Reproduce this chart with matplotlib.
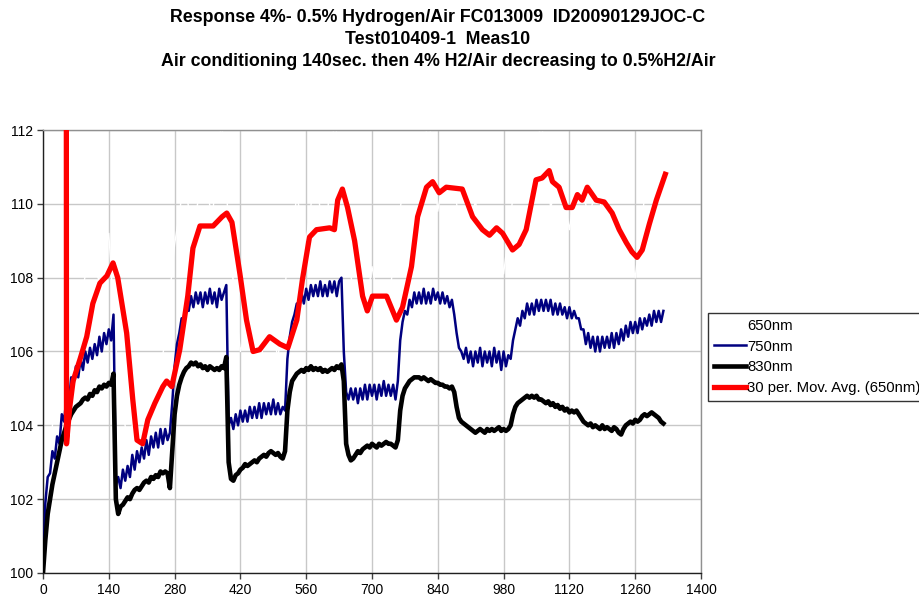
import matplotlib
matplotlib.use("Agg")
import matplotlib.pyplot as plt
from matplotlib.lines import Line2D

plt.rcParams['font.family'] = ['Liberation Sans', 'DejaVu Sans']

title_lines = [
    "Response 4%- 0.5% Hydrogen/Air FC013009  ID20090129JOC-C",
    "Test010409-1  Meas10",
    "Air conditioning 140sec. then 4% H2/Air decreasing to 0.5%H2/Air",
]
series_names = ["650nm", "750nm", "830nm", "30 per. Mov. Avg. (650nm)"]

t_fine = list(range(0, 1325, 5))

nm750 = [100.0, 101.9, 102.6, 102.7, 103.3, 103.1, 103.7, 103.5, 104.3, 104.1,
         104.8, 104.6, 105.3, 105.1, 105.6, 105.3, 105.8, 105.5, 106.0, 105.7,
         106.1, 105.8, 106.2, 105.9, 106.4, 106.0, 106.5, 106.2, 106.6, 106.3,
         107.0, 102.4, 102.6, 102.3, 102.8, 102.5, 102.9, 102.6, 103.2, 102.8,
         103.3, 103.0, 103.4, 103.1, 103.6, 103.2, 103.7, 103.4, 103.8, 103.4,
         103.9, 103.5, 103.9, 103.6, 103.8, 104.6, 105.6, 106.2, 106.5, 106.9,
         106.8, 107.3, 107.1, 107.5, 107.2, 107.6, 107.3, 107.6, 107.2, 107.6,
         107.3, 107.7, 107.3, 107.6, 107.2, 107.7, 107.4, 107.6, 107.8, 104.0,
         104.2, 103.9, 104.3, 104.0, 104.4, 104.1, 104.4, 104.1, 104.5, 104.2,
         104.5, 104.2, 104.6, 104.2, 104.6, 104.3, 104.6, 104.3, 104.7, 104.3,
         104.6, 104.3, 104.5, 104.4, 105.8, 106.4, 106.8, 107.0, 107.3, 107.2,
         107.6, 107.3, 107.7, 107.4, 107.8, 107.5, 107.8, 107.5, 107.9, 107.5,
         107.8, 107.5, 107.9, 107.6, 107.9, 107.5, 107.9, 108.0, 106.0, 104.9,
         104.7, 105.0, 104.7, 105.0, 104.6, 105.0, 104.7, 105.1, 104.7, 105.1,
         104.8, 105.1, 104.7, 105.1, 104.8, 105.2, 104.8, 105.1, 104.8, 105.1,
         104.7, 105.2, 106.3, 106.8, 107.1, 107.0, 107.4, 107.2, 107.6, 107.3,
         107.6, 107.3, 107.7, 107.3, 107.6, 107.3, 107.7, 107.4, 107.6, 107.3,
         107.6, 107.3, 107.5, 107.2, 107.4, 107.0, 106.5, 106.1, 106.0, 105.8,
         106.1, 105.7, 106.0, 105.6, 106.0, 105.7, 106.1, 105.6, 106.0, 105.7,
         106.0, 105.6, 106.1, 105.7, 106.0, 105.5, 106.0, 105.6, 105.9, 105.8,
         106.3, 106.6, 106.9, 106.7, 107.1, 106.9, 107.3, 107.0, 107.3, 107.0,
         107.4, 107.1, 107.4, 107.1, 107.4, 107.1, 107.4, 107.0, 107.3, 107.0,
         107.3, 107.0, 107.2, 106.9, 107.2, 106.9, 107.1, 106.9, 106.9, 106.6,
         106.6, 106.2, 106.5, 106.1, 106.4, 106.0, 106.4, 106.0, 106.4, 106.1,
         106.4, 106.1, 106.5, 106.1, 106.5, 106.2, 106.6, 106.3, 106.7, 106.4,
         106.8, 106.5, 106.8, 106.5, 106.9, 106.6, 106.9, 106.7, 107.0, 106.7,
         107.1, 106.8, 107.1, 106.8, 107.1]

nm830 = [100.0, 100.9, 101.6, 102.0, 102.4, 102.7, 103.0, 103.3, 103.6, 103.8,
         104.0, 104.15, 104.3, 104.4, 104.5, 104.55, 104.6, 104.7, 104.75, 104.7,
         104.85, 104.8, 104.95, 104.9, 105.05, 105.0, 105.1, 105.05, 105.15, 105.1,
         105.4, 102.0, 101.6, 101.8, 101.85, 101.95, 102.05, 102.0, 102.15, 102.25,
         102.3, 102.25, 102.35, 102.45, 102.5, 102.45, 102.6, 102.55, 102.65, 102.6,
         102.75, 102.7, 102.75, 102.7, 102.3, 103.3, 104.3, 104.8, 105.1, 105.3,
         105.45, 105.55, 105.6, 105.7, 105.65, 105.7, 105.6, 105.65, 105.55, 105.6,
         105.5, 105.6, 105.55, 105.5, 105.55, 105.5, 105.6, 105.55, 105.85, 103.0,
         102.55, 102.5, 102.65, 102.7, 102.8, 102.85, 102.95, 102.9, 102.95, 103.0,
         103.05, 103.0, 103.1, 103.15, 103.2, 103.15, 103.25, 103.3, 103.25, 103.2,
         103.25, 103.15, 103.1, 103.3, 104.4, 104.9, 105.2, 105.3, 105.4, 105.45,
         105.5, 105.45, 105.55, 105.5, 105.6, 105.5, 105.55, 105.5, 105.55, 105.45,
         105.5, 105.45, 105.5, 105.55, 105.5, 105.6, 105.55, 105.65, 105.2, 103.5,
         103.2, 103.05, 103.1, 103.2, 103.3, 103.25, 103.35, 103.4, 103.45, 103.4,
         103.5, 103.45, 103.4, 103.5, 103.45, 103.5, 103.55, 103.5, 103.5, 103.45,
         103.4, 103.6, 104.4, 104.8, 105.0, 105.1, 105.2, 105.25, 105.3, 105.3,
         105.3, 105.25, 105.3, 105.25, 105.2, 105.25, 105.2, 105.15, 105.15, 105.1,
         105.1, 105.05, 105.05, 105.0, 105.05, 104.9, 104.5, 104.2, 104.1, 104.05,
         104.0, 103.95, 103.9, 103.85, 103.8, 103.85, 103.9, 103.85, 103.8, 103.9,
         103.85, 103.9, 103.85, 103.9, 103.95, 103.85, 103.9, 103.85, 103.9, 104.0,
         104.3, 104.5, 104.6, 104.65, 104.7, 104.75, 104.8, 104.75, 104.8, 104.75,
         104.8, 104.7, 104.7, 104.65, 104.6, 104.65, 104.55, 104.6, 104.5, 104.55,
         104.45, 104.5, 104.4, 104.45, 104.35, 104.4, 104.35, 104.4, 104.3, 104.2,
         104.1, 104.05, 104.0, 104.05, 103.95, 104.0, 103.95, 103.9, 104.0, 103.9,
         103.95, 103.9, 103.85, 103.95, 103.9, 103.8, 103.75, 103.9, 104.0, 104.05,
         104.1, 104.05, 104.15, 104.1, 104.15, 104.25, 104.3, 104.25, 104.3, 104.35,
         104.3, 104.25, 104.2, 104.1, 104.05]

t_raw = list(range(0, 1340, 20))
nm650 = [100.5, 104.0, 105.5, 106.8, 107.5, 108.6, 107.9, 109.2, 105.1, 103.6,
         104.4, 105.2, 104.8, 106.3, 108.9, 110.6, 109.2, 111.0, 109.6, 112.3,
         108.5, 106.0, 106.9, 105.4, 107.2, 105.8, 108.4, 110.2, 109.0, 110.9,
         108.7, 112.4, 110.3, 107.4, 106.6, 108.3, 106.9, 107.8, 109.9, 111.2,
         110.1, 112.5, 109.8, 111.4, 110.0, 108.6, 110.1, 108.3, 109.8, 108.1,
         110.2, 111.6, 110.4, 112.3, 109.9, 110.8, 109.3, 111.1, 109.6, 110.5,
         108.9, 108.2, 109.1, 108.0, 110.2, 111.3, 110.9]

t_avg = [49, 50, 57, 64, 79, 93, 106, 121, 136, 149, 159, 178, 191, 200, 212, 223,
         238, 255, 263, 274, 291, 308, 319, 334, 362, 381, 391, 402, 419, 433, 447,
         461, 482, 504, 521, 540, 552, 567, 582, 610, 620, 627, 637, 648, 663, 680,
         690, 701, 731, 752, 765, 784, 797, 816, 829, 843, 858, 892, 914, 935, 950,
         965, 978, 999, 1013, 1028, 1049, 1062, 1077, 1084, 1098, 1113, 1126, 1137,
         1147, 1158, 1177, 1194, 1211, 1226, 1241, 1253, 1264, 1275, 1290, 1305, 1324]
mov_avg = [130.0, 103.5, 104.5, 105.2, 105.8, 106.4, 107.3, 107.85, 108.05, 108.4,
           108.0, 106.5, 104.7, 103.6, 103.5, 104.15, 104.6, 105.05, 105.2, 105.05,
           106.05, 107.5, 108.8, 109.4, 109.4, 109.65, 109.75, 109.5, 108.1, 106.85,
           106.0, 106.05, 106.4, 106.2, 106.1, 106.85, 107.95, 109.1, 109.3, 109.35,
           109.3, 110.1, 110.4, 109.9, 109.0, 107.5, 107.1, 107.5, 107.5, 106.85,
           107.2, 108.3, 109.65, 110.45, 110.6, 110.3, 110.45, 110.4, 109.65, 109.3,
           109.15, 109.35, 109.2, 108.75, 108.9, 109.3, 110.65, 110.7, 110.9, 110.6,
           110.45, 109.9, 109.9, 110.25, 110.1, 110.45, 110.1, 110.05, 109.75, 109.3,
           108.95, 108.7, 108.55, 108.75, 109.45, 110.1, 110.8]

x_ticks = list(range(0, 1401, 140))
y_ticks = list(range(100, 113, 2))

W, H = 919, 601
fig = plt.figure(figsize=(W / 100, H / 100), dpi=100)
ax = fig.add_axes([43 / W, 1 - 573 / H, (701 - 43) / W, (573 - 130) / H])

ax.plot(t_raw, nm650, color='white', lw=1.0, zorder=2, label=series_names[0])
ax.plot(t_fine, nm750, color='#000080', lw=1.8, zorder=3, label=series_names[1],
        solid_joinstyle='round')
ax.plot(t_fine, nm830, color='black', lw=3.3, zorder=4, label=series_names[2],
        solid_joinstyle='round')
ax.plot(t_avg, mov_avg, color='#ff0000', lw=3.8, zorder=5, label=series_names[3],
        solid_joinstyle='round')

ax.set_xlim(0, 1400)
ax.set_ylim(100, 112)
ax.set_xticks(x_ticks)
ax.set_yticks(y_ticks)
ax.grid(True, color='#c8c8c8', lw=1.0, zorder=0)
ax.set_axisbelow(True)
ax.tick_params(axis='both', labelsize=10, length=4, width=1, color='#404040', pad=3)
for side in ['top', 'right']:
    ax.spines[side].set_color('#909090')
    ax.spines[side].set_linewidth(1.0)
for side in ['left', 'bottom']:
    ax.spines[side].set_color('#202020')
    ax.spines[side].set_linewidth(1.0)

handles = [Line2D([], [], color='white', lw=1.0),
           Line2D([], [], color='#000080', lw=1.8),
           Line2D([], [], color='black', lw=3.3),
           Line2D([], [], color='#ff0000', lw=3.8)]
leg = fig.legend(handles, series_names, loc='upper left',
                 bbox_to_anchor=(708 / W, 1 - 313 / H), bbox_transform=fig.transFigure,
                 fontsize=10.7, frameon=True, fancybox=False, shadow=False,
                 borderaxespad=0, borderpad=0.4, labelspacing=0.45,
                 handlelength=2.15, handletextpad=0.1)
leg.get_frame().set_edgecolor('black')
leg.get_frame().set_linewidth(1.0)

ys = [18, 40, 62]
for txt, yy in zip(title_lines, ys):
    fig.text(438 / W, 1 - yy / H, txt, ha='center', va='center',
             fontsize=12.8, fontweight='bold')

fig.savefig('out.png', dpi=100)
